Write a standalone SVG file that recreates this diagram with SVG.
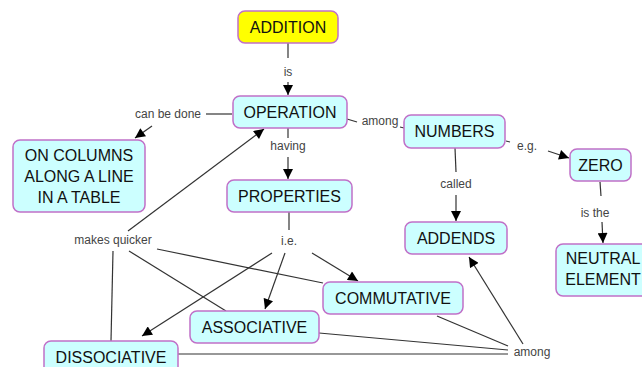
<svg xmlns="http://www.w3.org/2000/svg" width="642" height="367" viewBox="0 0 642 367">
<defs>
<marker id="ah" viewBox="0 0 10 10" refX="10" refY="5" markerWidth="11" markerHeight="10" markerUnits="userSpaceOnUse" orient="auto"><path d="M0,0 L10,5 L0,10 z" fill="#000"/></marker>
<style>
.n rect{fill:#ccffff;stroke:#c070c8;stroke-width:1.5}
.n.y rect{fill:#ffff00}
.n text{font-family:"Liberation Sans",Arial,sans-serif;font-size:16px;fill:#111;text-anchor:middle}
.c line{stroke:#333;stroke-width:1.2}
.c line.a{marker-end:url(#ah)}
.c text{font-family:"Liberation Sans",Arial,sans-serif;font-size:12px;fill:#444;text-anchor:middle}
</style>
</defs>
<rect width="642" height="367" fill="#fff"/>
<g class="c" id="connectors">
<line x1="288" y1="43" x2="288" y2="58"/>
<text x="288" y="76">is</text>
<line class="a" x1="288" y1="82" x2="288" y2="95"/>
<line x1="288" y1="128" x2="288" y2="138"/>
<text x="288" y="150">having</text>
<line class="a" x1="288" y1="157" x2="288" y2="179"/>
<line x1="289" y1="212" x2="289" y2="230"/>
<text x="289" y="245">i.e.</text>
<line x1="232" y1="114" x2="206" y2="114"/>
<text x="168" y="118">can be done</text>
<line class="a" x1="152" y1="126" x2="135" y2="138"/>
<line x1="347" y1="119" x2="357" y2="122"/>
<text x="380" y="125">among</text>
<line x1="400" y1="127" x2="404" y2="128"/>
<line x1="506" y1="141" x2="510" y2="142"/>
<text x="527" y="150">e.g.</text>
<line class="a" x1="548" y1="151" x2="569" y2="158"/>
<line x1="455" y1="148" x2="456" y2="172"/>
<text x="456" y="188">called</text>
<line class="a" x1="456" y1="195" x2="456" y2="221"/>
<line x1="600" y1="182" x2="601" y2="196"/>
<text x="595" y="217">is the</text>
<line class="a" x1="602" y1="222" x2="603" y2="243"/>
<text x="113" y="244">makes quicker</text>
<line class="a" x1="128" y1="231" x2="264" y2="129"/>
<line x1="113" y1="251" x2="111" y2="341"/>
<line x1="129" y1="251" x2="226" y2="311"/>
<line x1="157" y1="249" x2="323" y2="283"/>
<line class="a" x1="272" y1="253" x2="142" y2="336"/>
<line class="a" x1="285" y1="253" x2="265" y2="309"/>
<line class="a" x1="312" y1="253" x2="358" y2="281"/>
<line x1="437" y1="316" x2="508" y2="346"/>
<line x1="319" y1="333" x2="508" y2="350"/>
<line x1="178" y1="354" x2="508" y2="354"/>
<text x="532" y="356">among</text>
<line class="a" x1="523" y1="344" x2="469" y2="257"/>
</g>
<g class="n y" id="addition"><rect x="238" y="11" width="100" height="32" rx="7"/><text x="288" y="33">ADDITION</text></g>
<g class="n" id="operation"><rect x="233" y="96" width="114" height="32" rx="7"/><text x="290" y="118">OPERATION</text></g>
<g class="n" id="on-columns"><rect x="13" y="140" width="132" height="72" rx="7"/><text x="79" y="161">ON COLUMNS</text><text x="79" y="182">ALONG A LINE</text><text x="79" y="203">IN A TABLE</text></g>
<g class="n" id="properties"><rect x="227" y="180" width="125" height="32" rx="7"/><text x="289.5" y="202">PROPERTIES</text></g>
<g class="n" id="numbers"><rect x="404" y="115" width="101" height="33" rx="7"/><text x="454.5" y="137">NUMBERS</text></g>
<g class="n" id="zero"><rect x="570" y="149" width="61" height="32" rx="7"/><text x="600.5" y="171">ZERO</text></g>
<g class="n" id="addends"><rect x="405" y="222" width="102" height="32" rx="7"/><text x="456" y="244">ADDENDS</text></g>
<g class="n" id="neutral-element"><rect x="556" y="244" width="92" height="52" rx="7"/><text x="603" y="264">NEUTRAL</text><text x="603" y="285">ELEMENT</text></g>
<g class="n" id="commutative"><rect x="323" y="282" width="140" height="32" rx="7"/><text x="393" y="304">COMMUTATIVE</text></g>
<g class="n" id="associative"><rect x="190" y="311" width="129" height="32" rx="7"/><text x="254.5" y="333">ASSOCIATIVE</text></g>
<g class="n" id="dissociative"><rect x="44" y="341" width="134" height="34" rx="7"/><text x="111" y="363">DISSOCIATIVE</text></g>
</svg>
